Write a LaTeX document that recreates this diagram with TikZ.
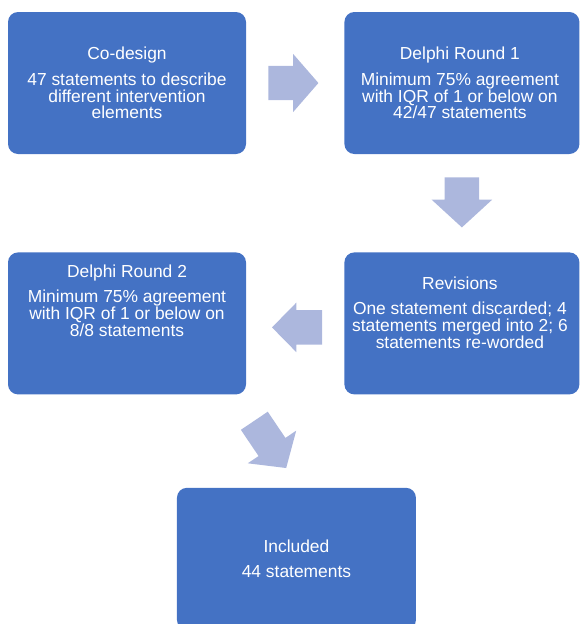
\documentclass[tikz,border=0pt]{standalone}
\usepackage{fontspec}
\setmainfont{Liberation Sans}
\usetikzlibrary{positioning,calc,shapes.arrows}
\definecolor{boxblue}{RGB}{68,114,196}
\definecolor{arrowblue}{RGB}{172,183,221}
\tikzset{
	stage/.style={fill=boxblue, rounded corners=10pt, minimum width=238pt, minimum height=142pt, inner sep=0pt},
	stagetext/.style={text=white, align=center, inner sep=0pt, font=\fontsize{17.4pt}{16.8pt}\selectfont},
	flow/.style={single arrow, fill=arrowblue, anchor=tail, inner xsep=0pt, inner ysep=17pt, minimum height=50pt, single arrow tip angle=98, single arrow head extend=12pt}
}

\begin{document}
\begin{tikzpicture}[x=1pt, y=-1pt]
	\useasboundingbox (0,0) rectangle (579,624);

	% stages
	\node[stage] (b1) at (127,83) {};
	\node[stage, right=98pt of b1, minimum width=235pt] (b2) {};
	\node[stage, below=98pt of b2, minimum width=235pt] (b3) {};
	\node[stage, left=98pt of b3, minimum width=238pt] (b4) {};
	\coordinate (mid) at ($(b4.south)!.5!(b3.south)$);
	\node[stage, below=93pt of mid, xshift=2pt, minimum width=239pt] (b5) {};

	% texts
	\node[stagetext] (t1) at (b1.center) {Co-design\\[9pt]47 statements to describe\\different intervention\\elements};
	\node[stagetext] (t2) at ([xshift=-2pt]b2.center) {Delphi Round 1\\[9pt]Minimum 75\% agreement\\with IQR of 1 or below on\\42/47 statements};
	\node[stagetext, below=24pt of b3.north, xshift=-2pt] (t3) {Revisions\\[9pt]One statement discarded; 4\\statements merged into 2; 6\\statements re-worded};
	\node[stagetext, below=12pt of b4.north] (t4) {Delphi Round 2\\[9pt]Minimum 75\% agreement\\with IQR of 1 or below on\\8/8 statements};
	\node[stagetext] (t5) at (b5.center) {Included\\[8pt]44 statements};

	% arrows
	\node[flow] (a1) at ([xshift=22pt]b1.east) {};
	\node[flow, rotate=-90, single arrow head extend=13pt, single arrow tip angle=95] (a2) at ([yshift=-23pt]b2.south) {};
	\node[flow, rotate=180, single arrow head extend=7.5pt, single arrow tip angle=91] (a3) at ($(b3.west)+(-22,4)$) {};
	\node[flow, rotate=-56, minimum height=57pt, inner ysep=16pt, single arrow head extend=13pt] (a4) at ($(b4.south east)+(8,26)$) {};
\end{tikzpicture}
\end{document}
